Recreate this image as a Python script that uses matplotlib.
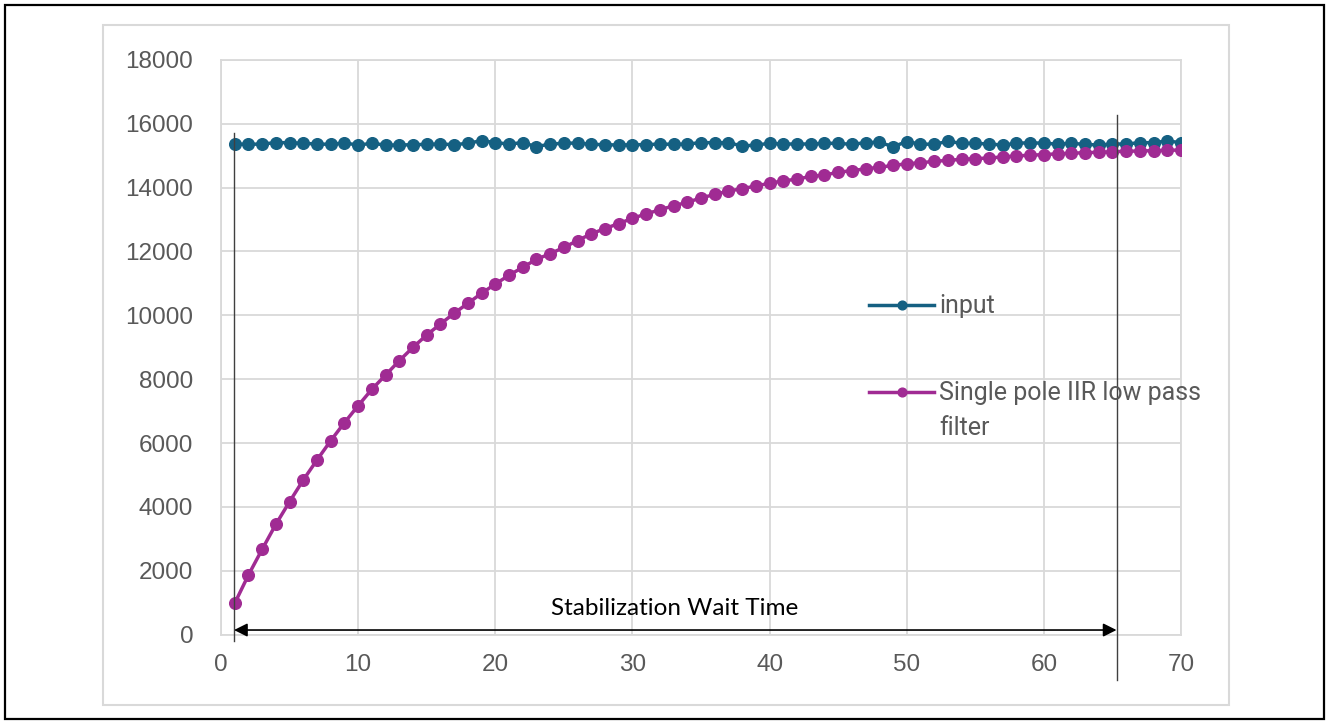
import matplotlib
matplotlib.use("Agg")
import matplotlib.pyplot as plt
from matplotlib.patches import Rectangle

# ---- data ----
sample = list(range(1, 71))
input_vals = [15368, 15357, 15368, 15410, 15410, 15389, 15368, 15357, 15400, 15336,
              15389, 15336, 15336, 15347, 15357, 15368, 15347, 15389, 15474, 15410,
              15368, 15410, 15283, 15368, 15389, 15400, 15357, 15347, 15336, 15347,
              15347, 15368, 15357, 15368, 15410, 15410, 15410, 15304, 15336, 15389,
              15368, 15368, 15368, 15389, 15389, 15357, 15410, 15425, 15283, 15442,
              15368, 15357, 15453, 15389, 15389, 15368, 15336, 15389, 15410, 15389,
              15368, 15389, 15357, 15336, 15368, 15368, 15410, 15410, 15463, 15410]
filter_vals = [978, 1864, 2669, 3453, 4161, 4841, 5468, 6072, 6636, 7169,
               7682, 8130, 8578, 8998, 9384, 9729, 10064, 10377, 10690, 10981,
               11254, 11505, 11755, 11930, 12128, 12342, 12556, 12717, 12877, 13037,
               13180, 13305, 13433, 13540, 13679, 13786, 13893, 13968, 14053, 14139,
               14214, 14267, 14353, 14396, 14481, 14535, 14588, 14642, 14695, 14749,
               14781, 14824, 14856, 14888, 14909, 14930, 14963, 14995, 15016, 15037,
               15060, 15080, 15095, 15110, 15125, 15140, 15150, 15160, 15170, 15180]
series_labels = ["input", "Single pole IIR low pass\nfilter"]
x_ticks = [0, 10, 20, 30, 40, 50, 60, 70]
y_ticks = [0, 2000, 4000, 6000, 8000, 10000, 12000, 14000, 16000, 18000]
wait_start, wait_end = 0.95, 65.3
wait_label = "Stabilization Wait Time"
wait_label_x, wait_label_y = 33.1, 830

# ---- styling ----
C_IN = "#156082"
C_FI = "#A02B93"
GRID = "#d9d9d9"
TXT = "#595959"
FONT = "Liberation Sans"
LEG_FONT = "Roboto"

W, H = 1326, 722
fig = plt.figure(figsize=(W / 100, H / 100), dpi=100)
ax = fig.add_axes([221 / W, 1 - 634.5 / H, 960 / W, 574.5 / H])

ax.plot(sample, input_vals, color=C_IN, lw=2.5, marker="o", ms=8.4,
        label=series_labels[0], zorder=3)
ax.plot(sample, filter_vals, color=C_FI, lw=2.5, marker="o", ms=8.4,
        label=series_labels[1], zorder=3)

ax.set_xlim(0, 70)
ax.set_ylim(0, 18000)
ax.set_xticks(x_ticks)
ax.set_yticks(y_ticks)
ax.set_xticklabels([str(v) for v in x_ticks], fontsize=17.5, color=TXT, family=FONT)
ax.set_yticklabels([str(v) for v in y_ticks], fontsize=17.5, color=TXT, family=FONT)
ax.tick_params(axis="both", length=0)
ax.tick_params(axis="y", pad=20)
ax.tick_params(axis="x", pad=14)
ax.grid(True, color=GRID, lw=1.3)
ax.set_axisbelow(True)
for s in ax.spines.values():
    s.set_color(GRID)
    s.set_linewidth(1.3)

# stabilization markers
ax.plot([wait_start, wait_start], [-200, 15713], color="#404040", lw=1.0,
        clip_on=False, zorder=4)
ax.plot([wait_end, wait_end], [-1430, 16275], color="#404040", lw=1.0,
        clip_on=False, zorder=4)
ax.annotate("", xy=(wait_end, 140), xytext=(wait_start, 140),
            arrowprops=dict(arrowstyle="<|-|>", color="black", lw=1.2,
                            mutation_scale=20, shrinkA=0, shrinkB=0),
            annotation_clip=False, zorder=5)
ax.text(wait_label_x, wait_label_y, wait_label,
        ha="center", va="center", fontsize=17.5, family="Lato", color="black")

leg = ax.legend(loc="upper left", bbox_to_anchor=(869 / W, 1 - 294 / H),
                bbox_transform=fig.transFigure, frameon=False, borderpad=0,
                borderaxespad=0, handlelength=2.6, handletextpad=0.2,
                handleheight=1.2, labelspacing=2.45,
                prop={"family": LEG_FONT, "size": 18}, markerscale=0.75)
for t in leg.get_texts():
    t.set_color(TXT)
    t.set_linespacing(1.6)
try:
    for col in leg._legend_handle_box.get_children():
        for hp in col.get_children():
            hp.align = "top"
except Exception:
    pass

# chart area border and outer frame
fig.patches.append(Rectangle((103 / W, 1 - 705 / H), (1229 - 103) / W, (705 - 25) / H,
                             transform=fig.transFigure, fill=False,
                             edgecolor=GRID, lw=1.5))
fig.patches.append(Rectangle((5 / W, 1 - 719 / H), (1324 - 5) / W, (719 - 5) / H,
                             transform=fig.transFigure, fill=False,
                             edgecolor="black", lw=1.6))

fig.savefig("out.png", dpi=100)
